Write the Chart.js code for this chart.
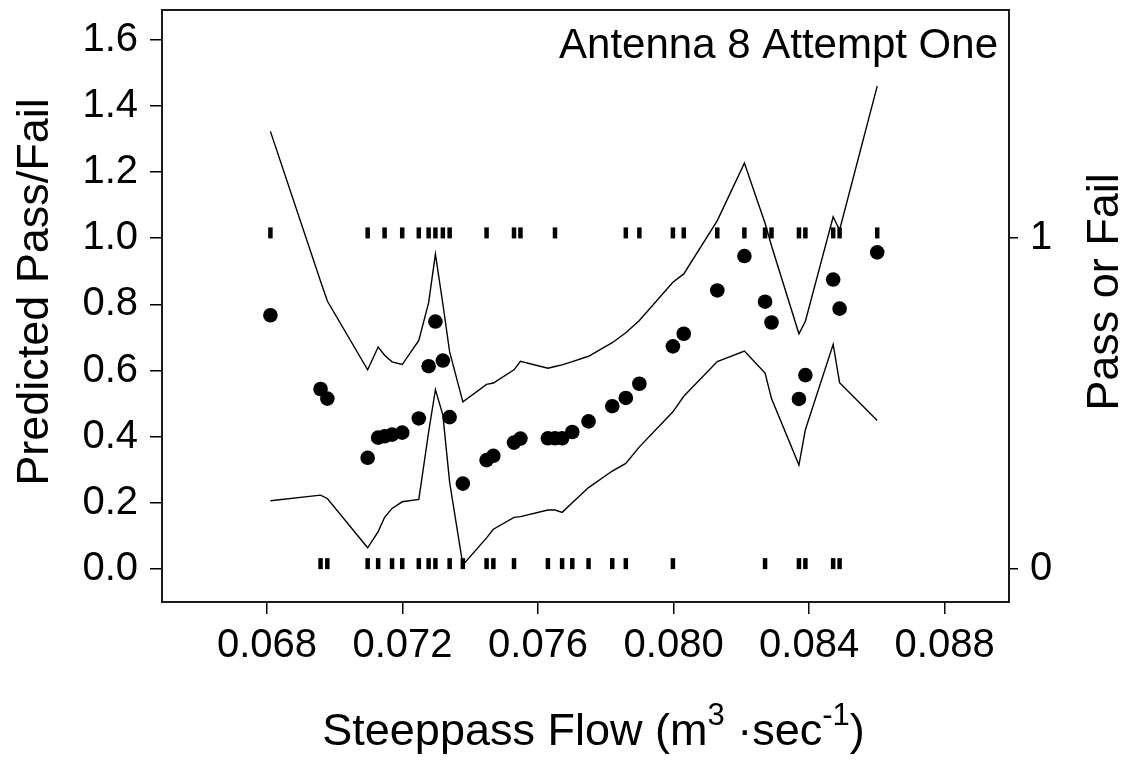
<!DOCTYPE html>
<html><head><meta charset="utf-8">
<script src="https://cdn.jsdelivr.net/npm/chart.js@4.4.1/dist/chart.umd.min.js"></script>
<style>html,body{margin:0;padding:0;background:#fff;}#wrap{width:1132px;height:763px;}</style>
</head><body><div id="wrap"><canvas id="c" width="1132" height="763"></canvas></div>
<script>
// ---- data ----
const flow = [0.06810, 0.06958, 0.06978, 0.07097, 0.07128, 0.07147, 0.07169, 0.07199, 0.07248, 0.07277,
  0.07297, 0.07319, 0.07339, 0.07378, 0.07448, 0.07468, 0.07529, 0.07548, 0.07629, 0.07650,
  0.07671, 0.07701, 0.07749, 0.07819, 0.07859, 0.07899, 0.07998, 0.08030, 0.08129, 0.08209,
  0.08270, 0.08289, 0.08370, 0.08389, 0.08471, 0.08490, 0.08601];
const predicted = [0.767, 0.544, 0.515, 0.336, 0.397, 0.401, 0.406, 0.412, 0.455, 0.613,
  0.748, 0.630, 0.459, 0.258, 0.329, 0.342, 0.382, 0.394, 0.395, 0.395,
  0.395, 0.414, 0.446, 0.492, 0.517, 0.560, 0.673, 0.711, 0.842, 0.946,
  0.808, 0.745, 0.514, 0.586, 0.875, 0.787, 0.957];
const upperCI = [1.323, 0.870, 0.810, 0.602, 0.671, 0.646, 0.626, 0.618, 0.691, 0.805,
  0.952, 0.801, 0.656, 0.505, 0.558, 0.562, 0.602, 0.628, 0.607, 0.612,
  0.617, 0.627, 0.643, 0.684, 0.714, 0.751, 0.867, 0.892, 1.053, 1.227,
  1.045, 0.977, 0.711, 0.749, 1.065, 1.025, 1.460];
const lowerCI = [0.206, 0.223, 0.213, 0.064, 0.113, 0.156, 0.183, 0.203, 0.210, 0.414,
  0.542, 0.465, 0.262, 0.012, 0.094, 0.120, 0.156, 0.158, 0.178, 0.178,
  0.171, 0.200, 0.246, 0.296, 0.319, 0.369, 0.475, 0.522, 0.627, 0.659,
  0.592, 0.515, 0.314, 0.421, 0.679, 0.563, 0.449];
const passFlow = [0.06810, 0.07097, 0.07147, 0.07199, 0.07248, 0.07277, 0.07297, 0.07319, 0.07339, 0.07448,
  0.07529, 0.07548, 0.07650, 0.07859, 0.07899, 0.07998, 0.08030, 0.08129, 0.08209, 0.08270,
  0.08289, 0.08370, 0.08389, 0.08471, 0.08490, 0.08601];
const failFlow = [0.06958, 0.06978, 0.07097, 0.07128, 0.07169, 0.07199, 0.07248, 0.07277, 0.07297, 0.07339,
  0.07378, 0.07448, 0.07468, 0.07529, 0.07629, 0.07671, 0.07701, 0.07749, 0.07819, 0.07859,
  0.07998, 0.08270, 0.08370, 0.08389, 0.08471, 0.08490];
const xTicks = [0.068, 0.072, 0.076, 0.080, 0.084, 0.088];
const yTicks = [0.0, 0.2, 0.4, 0.6, 0.8, 1.0, 1.2, 1.4, 1.6];
const y2Ticks = [0, 1];
const annotationText = 'Antenna 8 Attempt One';
const yTitle = 'Predicted Pass/Fail';
const y2Title = 'Pass or Fail';
const xTitleParts = [['Steeppass Flow (m', false], ['3', true], [' \u00B7sec', false], ['-1', true], [')', false]];

// ---- style ----
const FONT = '"Liberation Sans", Arial, Helvetica, sans-serif';
const RUG_LIFT = 0.016;
const TICK_FONT = 40, TITLE_FONT = 45, ANNOT_FONT = 42;

const pts = (xs, ys) => xs.map((x, i) => ({x, y: ys[i]}));
const rug = (xs, v) => xs.map(x => ({x, y: v + RUG_LIFT}));
const noPad = s => { s.paddingTop = 0; s.paddingBottom = 0; };

const overlay = {
  id: 'overlay',
  afterDraw(chart) {
    const {ctx, chartArea: a} = chart;
    const midY = (a.top + a.bottom) / 2 - 14;
    ctx.save();
    ctx.strokeStyle = '#1a1a1a';
    ctx.lineWidth = 2;
    ctx.strokeRect(a.left, a.top, a.right - a.left, a.bottom - a.top);
    ctx.fillStyle = '#000';
    ctx.font = ANNOT_FONT + 'px ' + FONT;
    ctx.textAlign = 'right';
    ctx.textBaseline = 'alphabetic';
    ctx.fillText(annotationText, a.right - 11, a.top + 48);
    // vertical titles, both read bottom to top
    [[yTitle, 36], [y2Title, chart.width - 26]].forEach(([t, cx]) => {
      ctx.save();
      ctx.translate(cx, midY);
      ctx.rotate(-Math.PI / 2);
      ctx.font = TITLE_FONT + 'px ' + FONT;
      ctx.textAlign = 'center';
      ctx.textBaseline = 'middle';
      ctx.fillText(t, 0, 0);
      ctx.restore();
    });
    // x title with superscripts
    const base = TITLE_FONT + 'px ' + FONT, sup = Math.round(TITLE_FONT * 0.7) + 'px ' + FONT;
    let total = 0;
    xTitleParts.forEach(([t, s]) => { ctx.font = s ? sup : base; total += ctx.measureText(t).width; });
    let x = (a.left + a.right) / 2 + 8 - total / 2;
    const baseY = 745;
    ctx.textAlign = 'left';
    xTitleParts.forEach(([t, s]) => {
      ctx.font = s ? sup : base;
      ctx.fillText(t, x, s ? baseY - 20 : baseY);
      x += ctx.measureText(t).width;
    });
    ctx.restore();
  }
};

new Chart(document.getElementById('c'), {
  type: 'scatter',
  data: {
    datasets: [
      {data: pts(flow, upperCI), showLine: true, pointRadius: 0, borderColor: '#000', borderWidth: 1.4, yAxisID: 'y'},
      {data: pts(flow, lowerCI), showLine: true, pointRadius: 0, borderColor: '#000', borderWidth: 1.4, yAxisID: 'y'},
      {data: pts(flow, predicted), pointRadius: 7.3, backgroundColor: '#000', borderWidth: 0, yAxisID: 'y'},
      {data: rug(passFlow, 1), pointStyle: 'line', rotation: 90, pointRadius: 5.5, borderWidth: 4.5, borderColor: '#000', yAxisID: 'y2'},
      {data: rug(failFlow, 0), pointStyle: 'line', rotation: 90, pointRadius: 5.5, borderWidth: 4.5, borderColor: '#000', yAxisID: 'y2'}
    ]
  },
  options: {
    responsive: false, animation: false, devicePixelRatio: 1,
    layout: {padding: {top: 9, left: 0, right: 0, bottom: 0}},
    plugins: {legend: {display: false}, tooltip: {enabled: false}},
    scales: {
      x: {
        type: 'linear', min: 0.0649, max: 0.0899,
        afterBuildTicks: s => { s.ticks = xTicks.map(v => ({value: v})); },
        afterFit: s => { s.height = 161; s.paddingLeft = 0; s.paddingRight = 0; },
        ticks: {callback: v => v.toFixed(3), font: {family: FONT, size: TICK_FONT}, color: '#000', padding: 8, autoSkip: false, maxRotation: 0},
        grid: {drawOnChartArea: false, drawTicks: true, tickLength: 12, color: '#000', lineWidth: 1.5},
        border: {display: false}
      },
      y: {
        position: 'left', min: -0.1, max: 1.69,
        afterBuildTicks: s => { s.ticks = yTicks.map(v => ({value: v})); },
        afterFit: s => { s.width = 162; noPad(s); },
        ticks: {callback: v => v.toFixed(1), font: {family: FONT, size: TICK_FONT}, color: '#000', padding: 12},
        grid: {drawOnChartArea: false, drawTicks: true, tickLength: 12, color: '#000', lineWidth: 1.5},
        border: {display: false}
      },
      y2: {
        position: 'right', min: -0.1, max: 1.69,
        afterBuildTicks: s => { s.ticks = y2Ticks.map(v => ({value: v})); },
        afterFit: s => { s.width = 123; noPad(s); },
        ticks: {callback: v => String(v), font: {family: FONT, size: TICK_FONT}, color: '#000', padding: 12},
        grid: {drawOnChartArea: false, drawTicks: true, tickLength: 9, color: '#000', lineWidth: 1.5},
        border: {display: false}
      }
    }
  },
  plugins: [overlay]
});
</script></body></html>
